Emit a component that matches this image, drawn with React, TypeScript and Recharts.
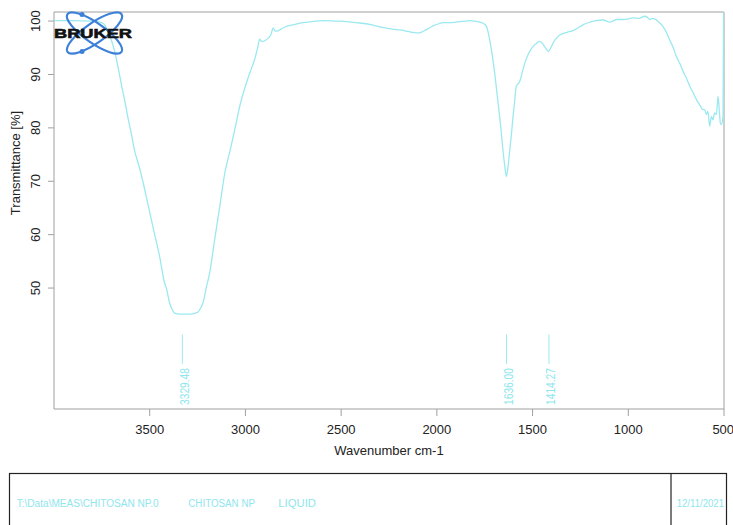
import React from 'react';
import { LineChart, Line, XAxis, YAxis, ReferenceLine, ReferenceDot, ReferenceArea } from 'recharts';

// ---- data ----
const wavenumbers = [
  4000, 3900, 3800, 3750, 3730, 3718, 3700, 3683, 3665, 3648, 3630, 3613, 3595, 3578, 3556, 3536,
  3505, 3474, 3448, 3422, 3413, 3396, 3380, 3370, 3340, 3300, 3270, 3248, 3235, 3222, 3205, 3187,
  3161, 3134, 3108, 3082, 3056, 3030, 2995, 2970, 2952, 2935, 2926, 2915, 2908, 2895, 2882, 2865,
  2856, 2846, 2838, 2810, 2786, 2740, 2699, 2650, 2595, 2530, 2473, 2420, 2368, 2320, 2264, 2210,
  2180, 2159, 2130, 2107, 2090, 2072, 2045, 2020, 1990, 1968, 1933, 1881, 1850, 1829, 1800, 1776,
  1759, 1741, 1724, 1710, 1698, 1685, 1672, 1663, 1655, 1645, 1637, 1628, 1619, 1610, 1602, 1593,
  1585, 1567, 1550, 1537, 1524, 1510, 1498, 1480, 1466, 1450, 1437, 1425, 1417, 1405, 1393, 1375,
  1358, 1320, 1289, 1260, 1237, 1200, 1167, 1130, 1097, 1060, 1030, 1000, 975, 945, 914, 900,
  888, 875, 862, 840, 819, 800, 784, 765, 749, 730, 714, 695, 679, 660, 644, 625,
  610, 601, 592, 584, 575, 566, 558, 549, 540, 531, 526, 519, 514, 505, 502, 500,
];
const transmittance = [
  100.1, 100.1, 100.0, 99.7, 99.0, 98.0, 96.4, 94.3, 91.3, 88.1, 85.0, 81.8, 78.7, 75.6, 72.9, 70.0,
  65.0, 60.0, 55.9, 50.9, 50.0, 47.2, 45.8, 45.3, 45.1, 45.1, 45.2, 45.5, 46.2, 47.2, 50.0, 52.8,
  59.0, 65.3, 71.5, 75.5, 79.6, 84.0, 88.4, 91.0, 92.8, 95.2, 96.6, 96.2, 96.2, 96.4, 96.8, 97.6,
  98.7, 98.2, 98.1, 98.6, 99.0, 99.4, 99.7, 99.9, 100.1, 100.0, 99.9, 99.7, 99.5, 99.1, 98.7, 98.4,
  98.3, 98.1, 97.9, 97.8, 97.8, 98.1, 98.6, 99.1, 99.5, 99.7, 99.7, 99.9, 100.0, 100.1, 100.0, 99.8,
  99.6, 99.0, 96.5, 93.5, 90.3, 86.2, 82.1, 79.0, 75.9, 72.8, 70.9, 72.8, 75.9, 79.0, 82.1, 85.2,
  87.8, 88.7, 90.9, 92.5, 93.7, 94.6, 95.2, 95.8, 96.2, 95.9, 95.2, 94.6, 94.3, 95.0, 95.9, 96.8,
  97.4, 97.9, 98.2, 98.8, 99.3, 99.8, 100.1, 100.2, 99.8, 100.3, 100.3, 100.4, 100.6, 100.5, 100.9, 100.7,
  100.3, 100.5, 100.4, 99.8, 99.0, 97.8, 96.5, 95.0, 93.4, 92.0, 90.6, 89.2, 87.8, 86.5, 85.3, 84.2,
  83.4, 83.4, 82.5, 83.1, 80.3, 82.1, 81.5, 82.8, 82.5, 85.9, 84.0, 80.9, 80.6, 82.1, 101.5, 101.7,
];
const xTicks = [3500, 3000, 2500, 2000, 1500, 1000, 500];
const yTicks = [50, 60, 70, 80, 90, 100];
const peakPositions = [3329.48, 1636.0, 1414.27];
const peakLabels = ['3329.48', '1636.00', '1414.27'];
const peakLineTop = 41.3;
const peakLineBottom = 35.8;
const peakTextStart = 28.1;
const xDomain: [number, number] = [500, 4000];
const yDomain: [number, number] = [27.35, 101.7];
const infoTexts = ['T:\\Data\\MEAS\\CHITOSAN NP.0', 'CHITOSAN NP', 'LIQUID'];
const dateText = '12/11/2021';

const data = wavenumbers.map((wn, i) => ({ wn, t: transmittance[i] }));

const CYAN = '#9be9f0';
const CYAN_TEXT = '#8fe6ee';
const AXIS = '#a0a0a0';
const FONT = '"Liberation Sans", Arial, Helvetica, sans-serif';

const YTick = (props: any) => {
  const { x, y, payload } = props;
  return (
    <text
      transform={`translate(${x}, ${y}) rotate(-90)`}
      textAnchor="middle"
      fontSize={13}
      fontFamily={FONT}
      fill="#222"
    >
      {payload.value}
    </text>
  );
};

const YLabel = (props: any) => {
  const vb = props.viewBox || { x: 0 };
  return (
    <text
      transform={`translate(${vb.x + 20}, 163) rotate(-90)`}
      textAnchor="middle"
      fontSize={13}
      fontFamily={FONT}
      fill="#222"
    >
      Transmittance [%]
    </text>
  );
};

const makePeakText = (label: string) => (props: any) => {
  const { cx, cy } = props;
  return (
    <text
      transform={`translate(${cx + 6.5}, ${cy}) rotate(-90)`}
      textAnchor="start"
      fontSize={12.5}
      fontFamily={FONT}
      fill={CYAN_TEXT}
      textLength={37}
      lengthAdjust="spacingAndGlyphs"
    >
      {label}
    </text>
  );
};

const Logo = () => (
  <svg width={733} height={525} style={{ position: 'absolute', left: 0, top: 0, pointerEvents: 'none' }}>
    <g transform="translate(94.5,33)">
      <ellipse rx={33} ry={10} transform="rotate(35)" fill="none" stroke="#3d80d8" strokeWidth={2.2} />
      <ellipse rx={33} ry={10} transform="rotate(-35)" fill="none" stroke="#3d80d8" strokeWidth={2.2} />
      <circle cx={-12.5} cy={-18.5} r={2.5} fill="#3d80d8" />
      <circle cx={-12.5} cy={18.5} r={2.5} fill="#3d80d8" />
    </g>
    <text
      x={54}
      y={38}
      fontSize={13}
      fontWeight={900}
      fontFamily={FONT}
      fill="#111"
      stroke="#111"
      strokeWidth={0.6}
      textLength={78}
      lengthAdjust="spacingAndGlyphs"
    >
      BRUKER
    </text>
    <rect x={9.5} y={473.5} width={717} height={70} fill="none" stroke="#222" strokeWidth={1.2} />
    <line x1={671} y1={473.5} x2={671} y2={525} stroke="#222" strokeWidth={1.2} />
    <text x={16.7} y={506.7} fontSize={11.7} fontFamily={FONT} fill={CYAN_TEXT} textLength={142} lengthAdjust="spacingAndGlyphs">
      {infoTexts[0]}
    </text>
    <text x={188.3} y={506.7} fontSize={11.7} fontFamily={FONT} fill={CYAN_TEXT} textLength={66.7} lengthAdjust="spacingAndGlyphs">
      {infoTexts[1]}
    </text>
    <text x={278.3} y={506.7} fontSize={11.7} fontFamily={FONT} fill={CYAN_TEXT} textLength={37.7} lengthAdjust="spacingAndGlyphs">
      {infoTexts[2]}
    </text>
    <text x={676.7} y={506.7} fontSize={11.7} fontFamily={FONT} fill={CYAN_TEXT} textLength={47.3} lengthAdjust="spacingAndGlyphs">
      {dateText}
    </text>
  </svg>
);

export default function App() {
  return (
    <div style={{ position: 'absolute', left: 0, top: 0, width: 733, height: 525, background: '#fff', overflow: 'hidden' }}>
      <LineChart width={733} height={525} data={data} margin={{ top: 12, right: 9, bottom: 0, left: 0 }}>
        <XAxis
          dataKey="wn"
          type="number"
          domain={xDomain}
          reversed
          ticks={xTicks}
          allowDataOverflow
          height={116}
          tickSize={7}
          tickMargin={9}
          axisLine={false}
          tickLine={{ stroke: AXIS }}
          tick={{ fontSize: 13, fontFamily: FONT, fill: '#222' }}
          label={{ value: 'Wavenumber cm-1', position: 'insideBottom', offset: 70, fontSize: 13, fontFamily: FONT, fill: '#222' }}
        />
        <YAxis
          type="number"
          domain={yDomain}
          ticks={yTicks}
          allowDataOverflow
          width={54}
          tickSize={6}
          tickMargin={8}
          axisLine={false}
          tickLine={{ stroke: AXIS }}
          tick={<YTick />}
          label={<YLabel />}
        />
        <ReferenceArea
          x1={xDomain[1]}
          x2={xDomain[0]}
          y1={yDomain[0]}
          y2={yDomain[1]}
          fill="none"
          fillOpacity={0}
          stroke={AXIS}
          strokeWidth={1}
          ifOverflow="visible"
        />
        <Line
          type="monotone"
          dataKey="t"
          stroke={CYAN}
          strokeWidth={1.3}
          dot={false}
          isAnimationActive={false}
        />
        {peakPositions.map((p, i) => (
          <ReferenceLine
            key={`pl${i}`}
            segment={[{ x: p, y: peakLineTop }, { x: p, y: peakLineBottom }]}
            stroke={CYAN}
            strokeWidth={1}
          />
        ))}
        {peakPositions.map((p, i) => (
          <ReferenceDot key={`pt${i}`} x={p} y={peakTextStart} r={0} shape={makePeakText(peakLabels[i])} />
        ))}
      </LineChart>
      <Logo />
    </div>
  );
}
